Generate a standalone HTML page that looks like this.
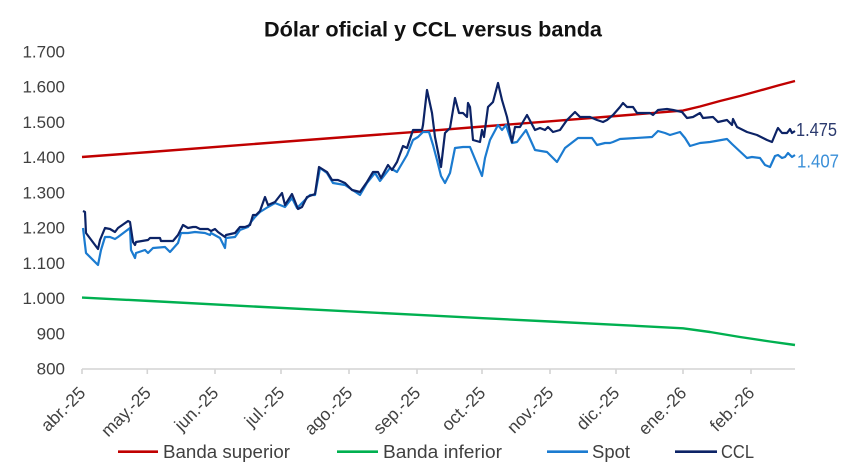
<!DOCTYPE html>
<html><head><meta charset="utf-8"><style>
html,body{margin:0;padding:0;background:#fff;}
svg{display:block;}
text{font-family:"Liberation Sans",sans-serif;}
</style></head><body>
<svg width="867" height="471" viewBox="0 0 867 471" xmlns="http://www.w3.org/2000/svg">
<rect width="867" height="471" fill="#fff"/>
<text x="264" y="36.5" font-size="21" font-weight="bold" fill="#111" textLength="338" lengthAdjust="spacingAndGlyphs">Dólar oficial y CCL versus banda</text>
<g font-size="17" fill="#404040" text-anchor="end">
<text x="65" y="57.5">1.700</text>
<text x="65" y="92.7">1.600</text>
<text x="65" y="127.9">1.500</text>
<text x="65" y="163.1">1.400</text>
<text x="65" y="198.4">1.300</text>
<text x="65" y="233.6">1.200</text>
<text x="65" y="268.8">1.100</text>
<text x="65" y="304">1.000</text>
<text x="65" y="339.3">900</text>
<text x="65" y="374.5">800</text>
</g>
<g stroke="#d4d4d4" stroke-width="1.6" fill="none">
<line x1="82" y1="369" x2="795" y2="369"/>
<path d="M82 369V374M147.3 369V374M215 369V374M281 369V374M349 369V374M417 369V374M482 369V374M550 369V374M616 369V374M683 369V374M751 369V374"/>
</g>
<g font-size="17.5" fill="#404040" text-anchor="end">
<text transform="translate(86.5,394) rotate(-45)">abr.-25</text>
<text transform="translate(152,394) rotate(-45)">may.-25</text>
<text transform="translate(219.5,394) rotate(-45)">jun.-25</text>
<text transform="translate(285.5,394) rotate(-45)">jul.-25</text>
<text transform="translate(353.5,394) rotate(-45)">ago.-25</text>
<text transform="translate(421.5,394) rotate(-45)">sep.-25</text>
<text transform="translate(486.5,394) rotate(-45)">oct.-25</text>
<text transform="translate(554.5,394) rotate(-45)">nov.-25</text>
<text transform="translate(620.5,394) rotate(-45)">dic.-25</text>
<text transform="translate(687.5,394) rotate(-45)">ene.-26</text>
<text transform="translate(755.5,394) rotate(-45)">feb.-26</text>
</g>
<polyline fill="none" stroke="#C00000" stroke-width="2.4" stroke-linejoin="round" points="82,157 150,152 250,144.3 333,138 417,131.8 483,126.5 550,121.3 616,116 683,110.6 700,106.5 720,101 740,96 760,90.5 778,85.5 795,81"/>
<polyline fill="none" stroke="#00B050" stroke-width="2.4" stroke-linejoin="round" points="82,297.6 150,301 250,306.3 333,310.6 417,314.8 483,318.2 550,321.5 616,324.8 683,328.3 710,332 740,337 770,341.5 795,345"/>
<polyline fill="none" stroke="#1B7BD0" stroke-width="2.2" stroke-linejoin="round" points="83,228 86,253 98,265 101,250 105,237 110,237 115,239 118,237 130,228 131,250 135,258 136,253 145,250 148,253 153,248 165,247 170,252 178,243 181,233 188,233 195,232 205,233 210,235 211,233 220,238 225,248 226,238 235,237 240,230 248,227 251,222 255,217 260,212 268,207 275,203 285,207 292,198 297,208 310,195 315,195 320,168 327,173 333,183 345,185 360,195 367,183 375,173 380,181 390,168 397,172 407,155 413,140 418,137 423,132 429,132 433,145 437,160 441,176 445,183 450,173 455,148 463,147 470,147 482,176 485,158 490,140 498,125 502,130 506,125 512,143 517,142 526,130 535,150 547,152 557,162 565,148 578,138 592,138 597,145 605,143 610,143 613,142 620,139 652,137 658,131 665,133 670,135 680,132 685,138 690,146 700,143 710,142 727,139 732,144 747,158 752,157 760,158 765,165 770,167 775,156 778,155 782,158 785,157 788,153 792,157 795,155"/>
<polyline fill="none" stroke="#0C2366" stroke-width="2.2" stroke-linejoin="round" points="83,211 85,212 86,233 98,249 100,240 105,228 110,229 115,232 118,228 128,221 130,222 133,242 135,245 136,242 148,240 150,238 160,238 161,241 173,241 178,235 183,225 188,228 193,227 196,227 200,229 208,229 211,231 215,229 218,232 225,237 226,235 235,233 240,227 245,227 250,225 253,215 256,215 260,211 265,197 268,205 275,202 282,193 285,205 292,194 298,209 302,207 307,197 315,194 319,167 327,172 332,180 338,180 345,183 352,190 360,192 367,182 373,172 378,172 381,178 388,165 392,170 397,162 403,146 407,148 413,130 422,130 423,125 427,90 432,113 435,137 441,167 443,150 445,133 450,128 455,98 459,113 463,113 467,117 468,103 470,107 473,140 480,142 482,130 484,137 488,107 493,102 498,83 502,100 507,117 512,142 515,127 520,127 527,115 535,130 540,128 545,130 548,127 553,132 560,130 567,120 575,112 580,117 590,117 597,120 603,122 607,120 613,115 620,107 623,103 627,107 633,107 637,113 650,113 653,115 658,110 667,109 673,110 682,112 687,118 693,117 700,113 703,118 713,117 718,122 727,120 732,125 733,119 737,127 747,132 757,135 767,140 772,142 777,130 778,128 782,133 787,133 790,129 792,133 795,131"/>
<text x="796" y="136" font-size="18" fill="#2B3A6E" textLength="41" lengthAdjust="spacingAndGlyphs">1.475</text>
<text x="797" y="167.7" font-size="18" fill="#3A8FD8" textLength="42" lengthAdjust="spacingAndGlyphs">1.407</text>
<g stroke-width="2.6">
<line x1="118" y1="451.7" x2="158" y2="451.7" stroke="#C00000"/>
<line x1="337" y1="451.7" x2="378" y2="451.7" stroke="#00B050"/>
<line x1="547" y1="451.7" x2="588" y2="451.7" stroke="#1B7BD0"/>
<line x1="675" y1="451.7" x2="717" y2="451.7" stroke="#0C2366"/>
</g>
<g font-size="18" fill="#404040">
<text x="163" y="458" textLength="127" lengthAdjust="spacingAndGlyphs">Banda superior</text>
<text x="383" y="458" textLength="119" lengthAdjust="spacingAndGlyphs">Banda inferior</text>
<text x="592" y="458" textLength="38" lengthAdjust="spacingAndGlyphs">Spot</text>
<text x="721" y="458" textLength="33" lengthAdjust="spacingAndGlyphs">CCL</text>
</g>
</svg>
</body></html>
